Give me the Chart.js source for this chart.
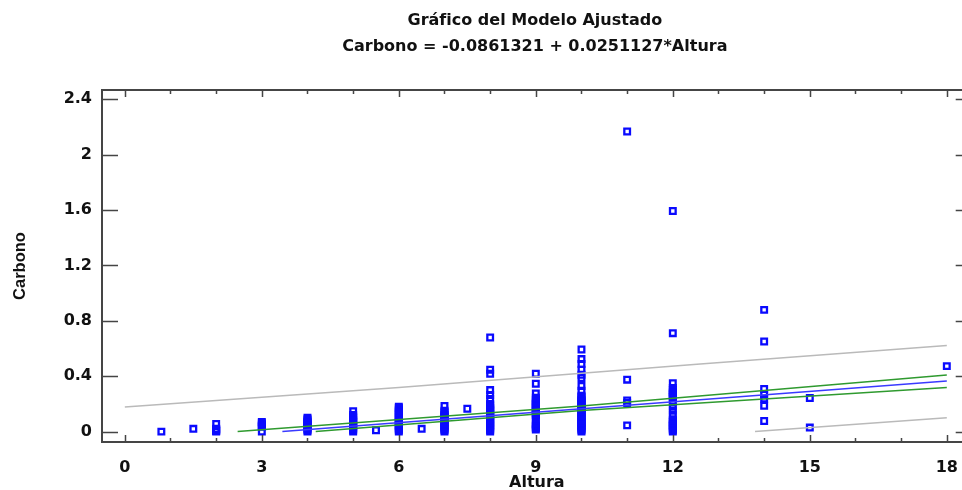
<!DOCTYPE html>
<html lang="es">
<head>
    <meta charset="UTF-8">
    <title>Gráfico del Modelo Ajustado</title>
    <script src="https://cdn.jsdelivr.net/npm/chart.js"></script>
    <style>
        html, body { margin: 0; padding: 0; background: #fff; overflow: hidden; }
        #caja { width: 978px; height: 490px; }
    </style>
</head>
<body>
<div id="caja"><canvas id="grafico" width="978" height="490"></canvas></div>
<script>
// Títulos
const tituloLineas = ['Gráfico del Modelo Ajustado', 'Carbono = -0.0861321 + 0.0251127*Altura'];

// Observaciones: cada altura con sus valores de carbono
const alturas = [0.8, 1.5, 2, 3, 4, 5, 5.5, 6, 6.5, 7, 7.5, 8, 9, 10, 11, 12, 14, 15, 18];
const carbonoPorAltura = [
    [0],
    [0.02],
    [0, 0.005, 0.01, 0.015, 0.02, 0.055],
    [0, 0.035, 0.04, 0.05, 0.06, 0.07],
    [0, 0.01, 0.02, 0.03, 0.04, 0.05, 0.06, 0.07, 0.08, 0.09, 0.1],
    [0, 0.01, 0.02, 0.03, 0.04, 0.05, 0.06, 0.07, 0.08, 0.09, 0.1, 0.11, 0.12, 0.148],
    [0.01],
    [0, 0.01, 0.02, 0.03, 0.04, 0.05, 0.06, 0.07, 0.08, 0.09, 0.1, 0.11, 0.12, 0.13, 0.14, 0.15, 0.16, 0.17, 0.18],
    [0.02],
    [0, 0.01, 0.02, 0.03, 0.04, 0.05, 0.06, 0.07, 0.08, 0.09, 0.1, 0.11, 0.12, 0.13, 0.14, 0.15, 0.185],
    [0.165],
    [0.68, 0.447, 0.418, 0.3, 0.265, 0.235, 0.2, 0.19, 0.18, 0.17, 0.16, 0.15, 0.14, 0.13, 0.12, 0.11, 0.1, 0.09, 0.08, 0.07, 0.06, 0.05, 0.04, 0.03, 0.02, 0.01, 0],
    [0.418, 0.346, 0.275, 0.245, 0.23, 0.22, 0.21, 0.2, 0.19, 0.18, 0.17, 0.16, 0.15, 0.14, 0.13, 0.12, 0.11, 0.085, 0.055, 0.045, 0.035, 0.025, 0.015],
    [0.593, 0.524, 0.488, 0.447, 0.41, 0.387, 0.33, 0.295, 0.26, 0.25, 0.24, 0.23, 0.22, 0.21, 0.2, 0.19, 0.18, 0.17, 0.16, 0.15, 0.14, 0.13, 0.12, 0.11, 0.1, 0.09, 0.08, 0.07, 0.06, 0.05, 0.04, 0.03, 0.02, 0.01, 0],
    [2.167, 0.375, 0.225, 0.207, 0.045],
    [1.593, 0.711, 0.35, 0.315, 0.3, 0.29, 0.28, 0.27, 0.26, 0.25, 0.24, 0.21, 0.18, 0.15, 0.12, 0.09, 0.08, 0.07, 0.06, 0.05, 0.04, 0.03, 0.02, 0.01, 0],
    [0.879, 0.651, 0.308, 0.267, 0.238, 0.187, 0.077],
    [0.243, 0.029],
    [0.473]
];

// Recta ajustada, límites de confianza (verde) y de predicción (gris)
const ajusteX = [3.45, 18];
const ajusteY = [0, 0.366];
const confSupX = [2.47, 10, 18];
const confSupY = [0, 0.185, 0.408];
const confInfX = [4.18, 10, 18];
const confInfY = [0, 0.152, 0.318];
const predSupX = [0, 6, 12.6, 18];
const predSupY = [0.178, 0.319, 0.488, 0.622];
const predInfX = [13.8, 18];
const predInfY = [0, 0.1];

// Marcas de los ejes
const xTicks = [0, 3, 6, 9, 12, 15, 18];
const xMinorTicks = [0, 1, 2, 3, 4, 5, 6, 7, 8, 9, 10, 11, 12, 13, 14, 15, 16, 17, 18];
const yTicks = [0, 0.4, 0.8, 1.2, 1.6, 2, 2.4];
const yTickLabels = ['0', '0.4', '0.8', '1.2', '1.6', '2', '2.4'];

const puntos = alturas.flatMap((x, i) => carbonoPorAltura[i].map(y => ({x: x, y: y})));
const pares = (xs, ys) => xs.map((x, i) => ({x: x, y: ys[i]}));

const fuenteH = {family: '"DejaVu Sans", sans-serif', size: 16, weight: 'bold', lineHeight: 1};
const fuenteV = {family: '"Liberation Sans", Arial, sans-serif', size: 16.5, weight: 'bold', lineHeight: 1};

function linea(data, color) {
    return {
        data: data,
        showLine: true,
        borderColor: color,
        borderWidth: 1.5,
        pointRadius: 0,
        fill: false,
        order: 0
    };
}

// marco con marcas hacia dentro
const marcoEjes = {
    id: 'marcoEjes',
    afterDatasetsDraw(chart) {
        const {ctx, chartArea: a, scales: {x, y}} = chart;
        ctx.save();
        ctx.strokeStyle = '#454545';
        ctx.lineWidth = 2;
        ctx.strokeRect(a.left, a.top, a.right - a.left, a.bottom - a.top);
        ctx.lineWidth = 1.5;
        ctx.beginPath();
        xMinorTicks.forEach(v => {
            const px = Math.round(x.getPixelForValue(v)) + 0.5;
            const largo = xTicks.includes(v) ? 7 : 4;
            ctx.moveTo(px, a.bottom);
            ctx.lineTo(px, a.bottom - largo);
            ctx.moveTo(px, a.top);
            ctx.lineTo(px, a.top + largo);
        });
        yTicks.forEach(v => {
            const py = Math.round(y.getPixelForValue(v)) + 0.5;
            ctx.moveTo(a.left, py);
            ctx.lineTo(a.left + 16, py);
            ctx.moveTo(a.right, py);
            ctx.lineTo(a.right - 16, py);
        });
        ctx.stroke();
        ctx.restore();
    }
};

const tituloCentrado = {
    id: 'tituloCentrado',
    afterDraw(chart) {
        const {ctx, chartArea: a} = chart;
        const cx = (a.left + a.right) / 2 - 2;
        ctx.save();
        ctx.font = 'bold 16px "DejaVu Sans", sans-serif';
        ctx.fillStyle = '#111';
        ctx.textAlign = 'center';
        ctx.textBaseline = 'middle';
        ctx.fillText(tituloLineas[0], cx, 21);
        ctx.fillText(tituloLineas[1], cx, 47);
        ctx.restore();
    }
};

new Chart(document.getElementById('grafico'), {
    type: 'scatter',
    data: {
        datasets: [
            linea(pares(predSupX, predSupY), '#bababa'),
            linea(pares(predInfX, predInfY), '#bababa'),
            linea(pares(confSupX, confSupY), '#2f9a2f'),
            linea(pares(confInfX, confInfY), '#2f9a2f'),
            linea(pares(ajusteX, ajusteY), '#3a3aff'),
            {
                data: puntos,
                pointStyle: 'rect',
                pointRadius: 4,
                borderWidth: 2.3,
                borderColor: '#0a0aff',
                backgroundColor: 'rgba(0,0,0,0)',
                order: 1
            }
        ]
    },
    options: {
        responsive: false,
        animation: false,
        devicePixelRatio: 1,
        layout: {padding: {top: 90, left: 0, right: 0, bottom: 0}},
        plugins: {
            legend: {display: false},
            tooltip: {enabled: false},
            title: {display: false}
        },
        scales: {
            x: {
                type: 'linear',
                min: -0.5,
                max: 18.545,
                afterBuildTicks: s => { s.ticks = xTicks.map(v => ({value: v})); },
                afterFit: s => { s.height = 48; },
                grid: {display: false, drawTicks: false},
                border: {display: false},
                ticks: {font: fuenteH, color: '#111', padding: 18, maxRotation: 0, autoSkip: false},
                title: {display: true, text: 'Altura', font: fuenteH, color: '#111', padding: {top: 0, bottom: -1}}
            },
            y: {
                type: 'linear',
                min: -0.075,
                max: 2.467,
                afterBuildTicks: s => { s.ticks = yTicks.map(v => ({value: v})); },
                afterFit: s => { s.width = 102; },
                grid: {display: false, drawTicks: false},
                border: {display: false},
                ticks: {
                    font: fuenteH, color: '#111', padding: 10, autoSkip: false,
                    callback: (v, i) => yTickLabels[i]
                },
                title: {display: true, text: 'Carbono', font: fuenteV, color: '#111', padding: {top: 12, bottom: 0}}
            }
        }
    },
    plugins: [marcoEjes, tituloCentrado]
});
</script>
</body>
</html>
